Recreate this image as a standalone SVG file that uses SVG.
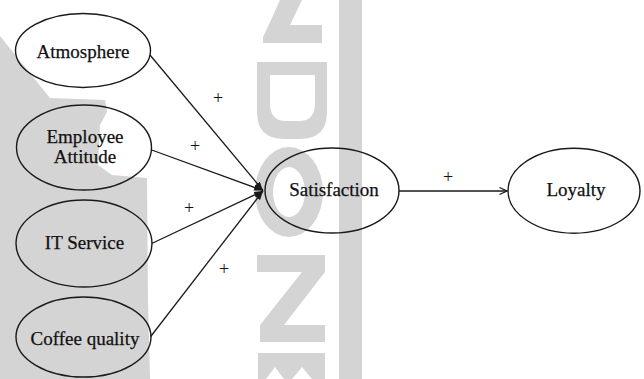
<svg xmlns="http://www.w3.org/2000/svg" width="644" height="379" viewBox="0 0 644 379">
<style>
.wm{fill:#d4d4d4;stroke:none}
.node ellipse{fill:none;stroke:#1a1a1a;stroke-width:1.4}
.node text{font-family:'Liberation Serif','Times New Roman',serif;font-size:19px;fill:#111;stroke:#111;stroke-width:0.25;text-anchor:middle}
.edge{stroke:#1a1a1a;stroke-width:1.3;fill:none}
.lbl{font-family:'Liberation Serif','Times New Roman',serif;font-size:18px;fill:#111;text-anchor:middle}
</style>
<defs>
<marker id="ah" markerWidth="10" markerHeight="8" refX="9" refY="4" orient="auto" markerUnits="userSpaceOnUse">
<path d="M0,0.8 L9,4 L0,7.2 Z" fill="#1a1a1a"/>
</marker>
<marker id="ao" markerWidth="10" markerHeight="10" refX="8.5" refY="5" orient="auto" markerUnits="userSpaceOnUse">
<path d="M1,1.5 L8.5,5 L1,8.5" fill="none" stroke="#1a1a1a" stroke-width="1.3"/>
</marker>
</defs>
<rect width="644" height="379" fill="#ffffff"/>
<g id="watermark">
<path class="wm" d="M0,36 L50,98 L105,100 L107,112 L100,125 L98,165 L112,175 L147,178 L148,300 L150,379 L0,379 Z"/>
<rect class="wm" x="339" y="0" width="23" height="379"/>
<path class="wm" d="M280,0 L302,0 L290,25 L322,25 L322,43 L263,43 L263,37 L271,20 Z"/>
<path class="wm" fill-rule="evenodd" d="M257,62 H327 V112 Q327,139 300,139 H284 Q257,139 257,112 Z M270,75 H315 V103 Q315,121 299,121 H286 Q270,121 270,103 Z"/>
<path class="wm" fill-rule="evenodd" d="M255,192 A34,45 0 1,0 323,192 A34,45 0 1,0 255,192 Z M273,192 A16,25 0 1,0 305,192 A16,25 0 1,0 273,192 Z"/>
<path class="wm" d="M257,255 H325 V272 L284,325 H325 V342 H260 V325 L302,272 H257 Z"/>
<path class="wm" d="M258,353 H325 V379 H312 L302,367 L292,379 H284 L275,367 L266,379 H258 Z"/>
</g>
<g id="connectors">
<line class="edge" x1="150" y1="55" x2="263" y2="190.5" marker-end="url(#ah)"/>
<line class="edge" x1="151.7" y1="150" x2="263" y2="190.5" marker-end="url(#ah)"/>
<line class="edge" x1="151.7" y1="243.5" x2="263" y2="191" marker-end="url(#ah)"/>
<line class="edge" x1="150.7" y1="336.5" x2="263" y2="191" marker-end="url(#ah)"/>
<line class="edge" x1="399" y1="191" x2="507" y2="191" marker-end="url(#ao)"/>
<text class="lbl" x="218" y="104">+</text>
<text class="lbl" x="195" y="152">+</text>
<text class="lbl" x="189" y="214">+</text>
<text class="lbl" x="224" y="275">+</text>
<text class="lbl" x="448" y="183">+</text>
</g>
<g id="atmosphere" class="node">
<ellipse cx="83" cy="50.5" rx="67.5" ry="37"/>
<text x="83" y="58">Atmosphere</text>
</g>
<g id="employee-attitude" class="node">
<ellipse cx="84" cy="147.5" rx="67.5" ry="42.5"/>
<text x="85" y="143">Employee</text>
<text x="85" y="163">Attitude</text>
</g>
<g id="it-service" class="node">
<ellipse cx="84" cy="243.5" rx="68" ry="43.5"/>
<text x="84.5" y="249">IT Service</text>
</g>
<g id="coffee-quality" class="node">
<ellipse cx="83.5" cy="337" rx="67.5" ry="40"/>
<text x="85" y="345">Coffee quality</text>
</g>
<g id="satisfaction" class="node">
<ellipse cx="332" cy="190.5" rx="67" ry="42.5"/>
<text x="334" y="196">Satisfaction</text>
</g>
<g id="loyalty" class="node">
<ellipse cx="574" cy="190.7" rx="66" ry="42.5"/>
<text x="576" y="196">Loyalty</text>
</g>
</svg>
